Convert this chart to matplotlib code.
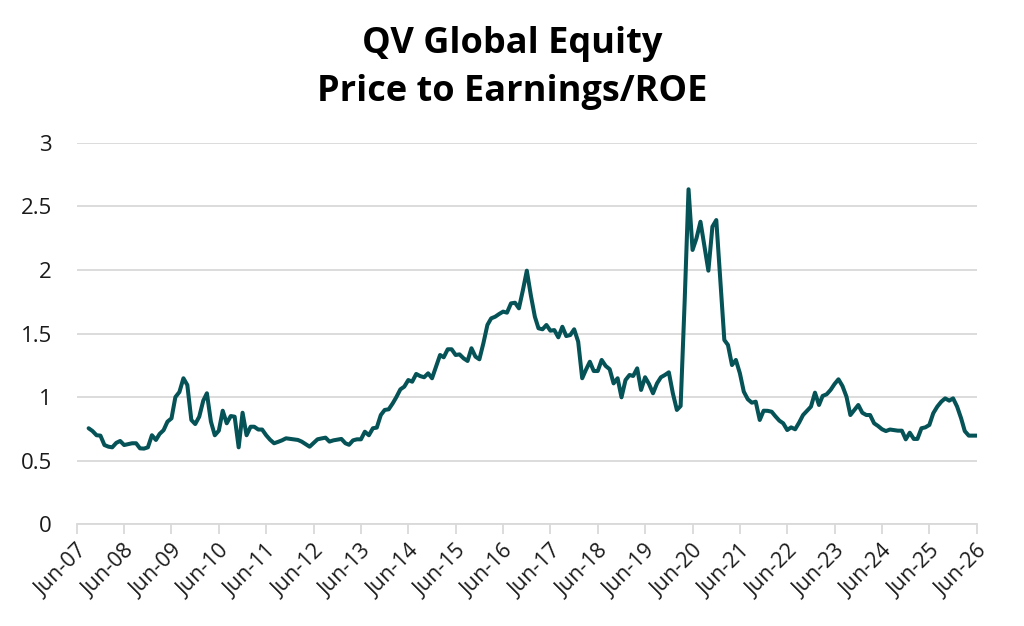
import matplotlib
matplotlib.use("Agg")
import matplotlib.pyplot as plt
import matplotlib.dates as mdates
import pandas as pd

plt.rcParams['font.family'] = ['Open Sans', 'DejaVu Sans']

title_lines = ["QV Global Equity", "Price to Earnings/ROE"]
first_month = "2007-09-01"
# monthly Price to Earnings / ROE values, Sep-2007 onward
pe_roe = [
    0.755, 0.733, 0.700, 0.697, 0.623, 0.610, 0.605, 0.640, 0.655, 0.623,
    0.630, 0.637, 0.637, 0.597, 0.595, 0.605, 0.700, 0.663, 0.710, 0.740,
    0.807, 0.833, 1.000, 1.040, 1.148, 1.095, 0.820, 0.788, 0.846, 0.972,
    1.030, 0.807, 0.700, 0.736, 0.893, 0.794, 0.851, 0.846, 0.605, 0.877,
    0.700, 0.767, 0.767, 0.745,
    0.745, 0.700, 0.665, 0.637, 0.648, 0.660, 0.676, 0.672, 0.668, 0.663,
    0.650, 0.630, 0.610, 0.640, 0.668, 0.675, 0.681, 0.650, 0.660, 0.665,
    0.671, 0.637, 0.625, 0.660, 0.668, 0.668, 0.728, 0.700, 0.755, 0.760,
    0.859, 0.899, 0.904, 0.951, 1.000, 1.061, 1.082, 1.134, 1.121, 1.182,
    1.165, 1.156, 1.187, 1.148, 1.239, 1.331, 1.313, 1.376,
    1.376, 1.331, 1.336, 1.305, 1.284, 1.384, 1.318, 1.297, 1.423, 1.567,
    1.619, 1.632, 1.653, 1.672, 1.664, 1.737, 1.742, 1.698, 1.842, 1.994,
    1.800, 1.632, 1.541, 1.533, 1.567, 1.522, 1.527, 1.470, 1.553, 1.480,
    1.488, 1.533, 1.436, 1.148, 1.213, 1.278, 1.205, 1.205, 1.292, 1.245,
    1.219, 1.108, 1.148, 0.998, 1.134, 1.174, 1.166, 1.226,
    1.056, 1.156, 1.103, 1.030, 1.108, 1.156, 1.174, 1.195, 1.030, 0.899,
    0.930, 1.750, 2.634, 2.157, 2.248, 2.379, 2.182, 1.994, 2.340, 2.392,
    1.920, 1.449, 1.410, 1.252, 1.292, 1.187, 1.043, 0.983, 0.956, 0.964,
    0.820, 0.893, 0.892, 0.885, 0.850, 0.815, 0.794, 0.741, 0.762, 0.747,
    0.800, 0.859, 0.893, 0.925, 1.035, 0.938, 1.009, 1.022, 1.056, 1.103,
    1.140, 1.087, 1.003, 0.859, 0.899, 0.938, 0.877, 0.859, 0.859, 0.794,
    0.773, 0.747, 0.733, 0.745, 0.740, 0.736, 0.736, 0.668, 0.720, 0.671,
    0.671, 0.755, 0.762, 0.781, 0.873, 0.925, 0.964, 0.990, 0.972, 0.990,
    0.925, 0.833, 0.733, 0.697, 0.697, 0.697,
]
dates = pd.date_range(first_month, periods=len(pe_roe), freq="MS")
x_start, x_end = "2007-06-01", "2026-06-01"
y_ticks = [0, 0.5, 1, 1.5, 2, 2.5, 3]
y_labels = ["0", "0.5", "1", "1.5", "2", "2.5", "3"]

line_color = "#055257"
grid_color = "#d9d9d9"
text_color = "#1a1a1a"

fig = plt.figure(figsize=(10.24, 6.26), dpi=100)
ax = fig.add_axes([0.0749, 0.1625, 0.8789, 0.6095])

ax.plot(dates, pe_roe, color=line_color, lw=2.9, solid_joinstyle="round",
        solid_capstyle="round", zorder=3)

ax.set_ylim(0, 3)
ax.set_xlim(pd.Timestamp(x_start), pd.Timestamp(x_end))
ax.set_yticks(y_ticks)
ax.set_yticklabels(y_labels)
ax.yaxis.grid(True, color=grid_color, lw=1.3)
ax.set_axisbelow(True)

ax.xaxis.set_major_locator(mdates.MonthLocator(bymonth=6))
ax.xaxis.set_major_formatter(mdates.DateFormatter("Jun-%y"))

for s in ["top", "right", "left"]:
    ax.spines[s].set_visible(False)
ax.spines["bottom"].set_color(grid_color)
ax.spines["bottom"].set_linewidth(1.3)

ax.tick_params(axis="y", length=0, pad=18, labelsize=16, labelcolor=text_color)
ax.tick_params(axis="x", length=7, width=1.3, color=grid_color, pad=5,
               labelsize=15.5, labelcolor=text_color)
for lbl in ax.get_xticklabels():
    lbl.set_rotation(45)
    lbl.set_ha("right")
    lbl.set_rotation_mode("anchor")

fig.text(0.5, 0.930, title_lines[0], ha="center", va="center",
         fontsize=26, fontweight="bold", color="#000000")
fig.text(0.5, 0.853, title_lines[1], ha="center", va="center",
         fontsize=26, fontweight="bold", color="#000000")

fig.savefig("out.png", dpi=100)
